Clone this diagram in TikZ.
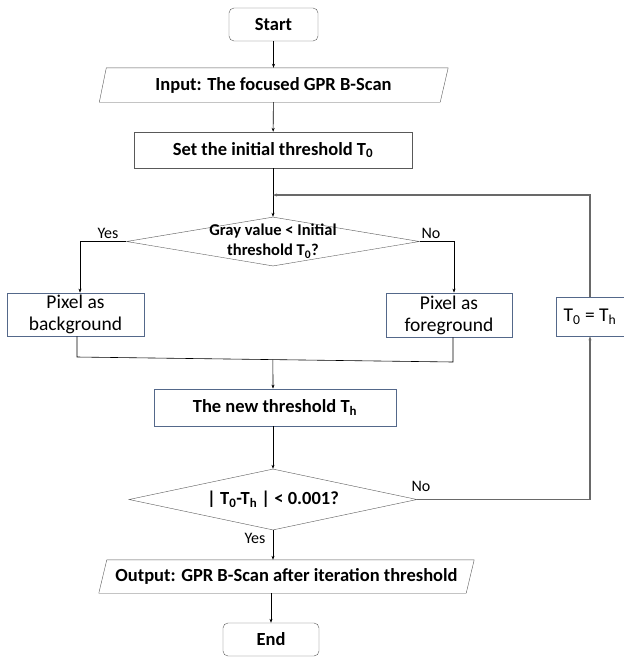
\documentclass[tikz,border=0pt]{standalone}
\usepackage{fontspec}
\setmainfont{Carlito}
\usetikzlibrary{shapes.geometric,arrows.meta,calc}

\definecolor{edgegray}{RGB}{89,89,89}
\definecolor{edgeblue}{RGB}{84,104,138}
\definecolor{loopgray}{RGB}{105,105,105}

\tikzset{
  term/.style={draw=edgegray, rounded corners=5pt, inner sep=0pt,
    font=\bfseries\fontsize{18.5}{20}\selectfont},
  proc/.style={draw=edgegray, inner sep=0pt,
    font=\bfseries\fontsize{18.5}{20}\selectfont},
  bluebox/.style={draw=edgeblue, line width=0.8pt, inner sep=0pt, align=center,
    font=\fontsize{19.5}{22}\selectfont},
  iotext/.style={inner sep=0pt, font=\bfseries\fontsize{18.5}{20}\selectfont},
  decision/.style={diamond, draw=edgegray, inner sep=0pt},
  lbl/.style={inner sep=0pt, font=\fontsize{16}{18}\selectfont},
  flow/.style={-{Stealth[length=4pt,width=3pt]}, line width=0.6pt},
  loopline/.style={draw=loopgray, line width=1.1pt},
}

\begin{document}
\begin{tikzpicture}[x=1pt,y=-1pt]
  \useasboundingbox (0,0) rectangle (624,657);

  % main column
  \node[term, minimum width=89pt, minimum height=33pt] (start) at (273.5,24.5) {Start};
  \node[iotext, minimum width=341pt, minimum height=34pt] (input) at (273.5,85) {Input: The focused GPR B-Scan};
  \node[proc, minimum width=278pt, minimum height=36pt] (init) at (273,150) {Set the initial threshold T\textsubscript{0}};
  \coordinate (join) at (273,195);
  \node[decision, minimum width=293pt, minimum height=49pt,
    label={[align=center, font=\bfseries\fontsize{16.5}{20}\selectfont]center:Gray value < Initial\\threshold T\textsubscript{0}?}]
    (grey) at (273,241.5) {};
  \node[bluebox, minimum width=137pt, minimum height=43pt] (bg) at (75.5,314.5) {Pixel as\\background};
  \node[bluebox, minimum width=126pt, minimum height=44pt] (fg) at (449,315) {Pixel as\\foreground};
  \node[bluebox, minimum width=68pt, minimum height=39pt] (upd) at (590,316.5) {T\textsubscript{0} = T\textsubscript{h}};
  \coordinate (m1) at (77,357);
  \coordinate (m2) at (453,362);
  \node[bluebox, font=\bfseries\fontsize{18.5}{20}\selectfont, minimum width=242pt, minimum height=37pt] (newth) at (275,407.5) {The new threshold T\textsubscript{h}};
  \node[decision, minimum width=288pt, minimum height=61pt,
    label={[font=\bfseries\fontsize{18.5}{20}\selectfont]center:| T\textsubscript{0}-T\textsubscript{h} | < 0.001?}]
    (conv) at (273,499.5) {};
  \node[iotext, minimum width=367pt, minimum height=33pt] (output) at (286.5,576.5) {Output: GPR B-Scan after iteration threshold};
  \node[term, minimum width=96pt, minimum height=33pt] (end) at (271,639.5) {End};

  % parallelograms
  \draw[edgegray] ([xshift=3.5pt]input.north west) -- ([xshift=4pt]input.north east)
    -- ([xshift=-4pt]input.south east) -- ([xshift=-3.5pt]input.south west) -- cycle;
  \draw[edgegray] ([xshift=4pt]output.north west) -- ([xshift=4pt]output.north east)
    -- ([xshift=-4pt]output.south east) -- ([xshift=-4pt]output.south west) -- cycle;

  % labels
  \node[lbl] (yes1) at (108,233) {Yes};
  \node[lbl] (no1) at (431,233) {No};
  \node[lbl] (no2) at (421,486) {No};
  \node[lbl] (yes2) at (255,538) {Yes};

  % connectors
  \draw[flow] (start) -- (input);
  \draw[flow] (input) -- (init);
  \draw[flow] (init.south) -- (grey.north);
  \draw[flow] (grey.west) -| ([xshift=4.5pt]bg.north);
  \draw[flow] (grey.east) -| ([xshift=5pt]fg.north);
  \draw[line width=0.6pt] ([xshift=1.5pt]bg.south) -- (m1) -- (m2) -- ([xshift=4pt]fg.south);
  \draw[flow] ($(m1)!0.521!(m2)$) -- ([xshift=-2pt]newth.north);
  \draw[flow] ([xshift=-2pt]newth.south) -- (conv.north);
  \draw[flow] (conv.south) -- ([xshift=-13.5pt]output.north);
  \draw[flow] ([xshift=-15.5pt]output.south) -- (end.north);

  % loop back
  \draw[loopline, -{Stealth[length=4pt,width=3pt]}] (conv.east) -| (upd.south);
  \draw[loopline, -{Stealth[length=4pt,width=3pt]}] (upd.north) |- (join);
\end{tikzpicture}
\end{document}
